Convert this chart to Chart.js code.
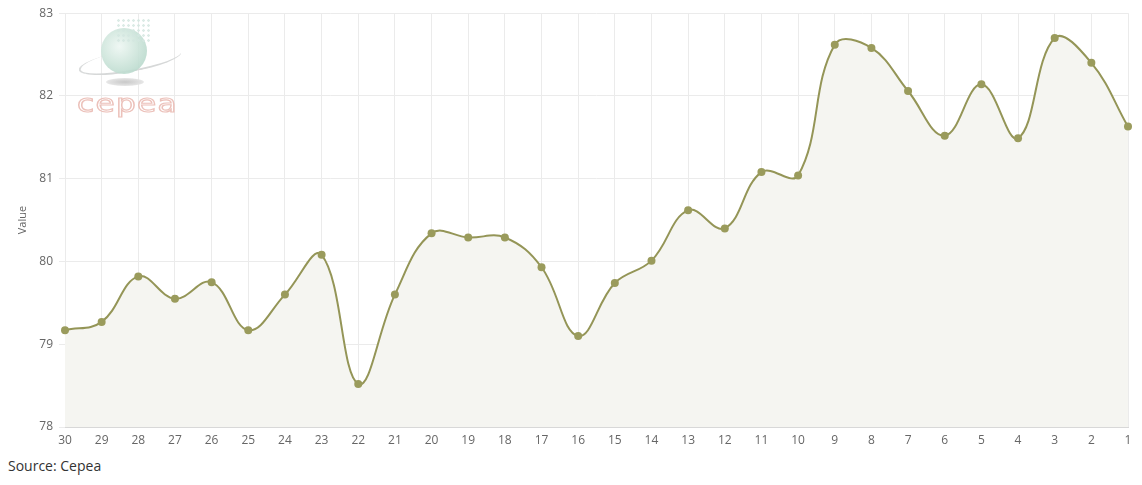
<!DOCTYPE html>
<html>
<head>
<meta charset="utf-8">
<script src="https://cdn.jsdelivr.net/npm/chart.js@4.4.1/dist/chart.umd.min.js"></script>
<style>
  html, body { margin: 0; padding: 0; background: #fff; }
  #wrap { position: relative; width: 1142px; height: 485px; overflow: hidden; }
  #c { position: absolute; left: 0; top: 0; }
  #source { position: absolute; left: 8px; top: 456px; font-family: "Open Sans", sans-serif; font-size: 14px; color: #333; }
  #logo { position: absolute; left: 76px; top: 16px; width: 110px; height: 100px; pointer-events: none; }
  #globe { position: absolute; left: 25px; top: 12px; width: 46px; height: 46px; border-radius: 50%;
           background: radial-gradient(circle at 40% 40%, #eef7f3 0%, #cfe6dc 45%, #a9d0c1 100%); opacity: 0.9; }
  #orbit { position: absolute; left: 2px; top: 34px; width: 102px; height: 20px; border-radius: 50%;
           border-bottom: 2px solid #d6d8d8; border-left: 2px solid #dadcdc; transform: rotate(-10deg); }
  #shadow { position: absolute; left: 30px; top: 62px; width: 38px; height: 8px; border-radius: 50%;
            background: radial-gradient(ellipse at center, #c8c8c8 0%, #e2e2e2 60%, rgba(255,255,255,0) 100%); }
  #dots { position: absolute; left: 40px; top: 2px; width: 34px; height: 24px;
          background-image: radial-gradient(circle, #d3e6e0 1.2px, transparent 1.5px); background-size: 5px 5px; opacity: 0.8; }
  #ltext { position: absolute; left: 1px; top: 75px; font-family: "DejaVu Sans", sans-serif; font-size: 25px; letter-spacing: 1px;
           color: rgba(255,255,255,0); -webkit-text-stroke: 1.2px #ecc1ba; transform: scaleX(1.25); transform-origin: left top; line-height: 1; }
</style>
</head>
<body>
<div id="wrap">
  <canvas id="c" width="1142" height="455"></canvas>
  <div id="logo">
    <div id="orbit"></div>
    <div id="globe"></div>
    <div id="dots"></div>
    <div id="shadow"></div>
    <div id="ltext">cepea</div>
  </div>
  <div id="source">Source: Cepea</div>
</div>
<script>
const categories = ["30","29","28","27","26","25","24","23","22","21","20","19","18","17","16","15","14","13","12","11","10","9","8","7","6","5","4","3","2","1"];
const values = [79.17, 79.27, 79.82, 79.55, 79.75, 79.17, 79.60, 80.08, 78.52, 79.60, 80.34, 80.29, 80.29, 79.93, 79.10, 79.74, 80.01, 80.62, 80.40, 81.08, 81.04, 82.62, 82.58, 82.06, 81.52, 82.14, 81.49, 82.70, 82.40, 81.63];
const yTicks = [78, 79, 80, 81, 82, 83];
const yTitle = "Value";

const font = { family: "'Open Sans', sans-serif", size: 12 };

new Chart(document.getElementById('c'), {
  type: 'line',
  data: {
    labels: categories,
    datasets: [{
      data: values,
      borderColor: '#949557',
      backgroundColor: '#f5f5f1',
      pointBackgroundColor: '#9a9b5c',
      pointBorderWidth: 0,
      pointRadius: 4,
      borderWidth: 2,
      tension: 0.4,
      fill: 'start'
    }]
  },
  options: {
    responsive: false,
    animation: false,
    events: [],
    layout: { padding: { left: 0, right: 14, top: 12, bottom: 0 } },
    plugins: { legend: { display: false }, tooltip: { enabled: false } },
    scales: {
      x: {
        offset: false,
        grid: { color: '#ebebeb', drawTicks: false },
        border: { color: '#d8d8d8' },
        ticks: { color: '#666', font: font, padding: 6, maxRotation: 0, autoSkip: false },
        afterFit: (s) => { s.height = 28; }
      },
      y: {
        min: 78, max: 83,
        afterBuildTicks: (s) => { s.ticks = yTicks.map(v => ({ value: v })); },
        grid: { color: '#ebebeb', tickLength: 6 },
        border: { display: false },
        ticks: { color: '#666', font: font, padding: 6 },
        title: { display: true, text: yTitle, color: '#666', padding: { top: 16, bottom: 0 }, font: { family: "'Open Sans', sans-serif", size: 11 } },
        afterFit: (s) => { s.width = 65; }
      }
    }
  }
});
</script>
</body>
</html>
